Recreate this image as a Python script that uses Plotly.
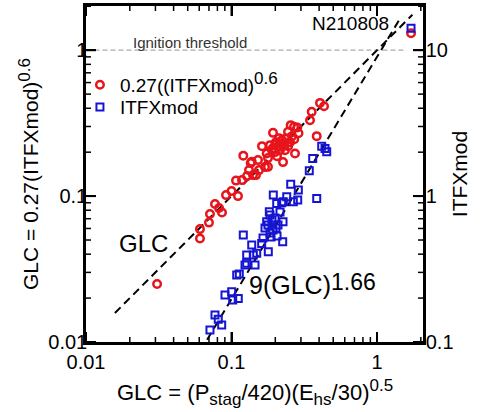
import numpy as np
import plotly.graph_objects as go

# ---------------- data ----------------
# red circles: GLC (x) vs 0.27*(ITFXmod)^0.6 (left axis)
red_glc = [0.0308, 0.0607, 0.0607, 0.0700, 0.0711, 0.0770, 0.0860, 0.0821,
           0.1000, 0.1108, 0.0917, 0.1074, 0.1181, 0.1278, 0.1405, 0.1473,
           0.1319, 0.1545, 0.1699, 0.1355, 0.1205, 0.1377, 0.1781, 0.2259,
           0.1745, 0.2732, 0.1928, 0.2445, 0.2552, 0.2689, 0.2833, 0.3557,
           0.3463, 0.4057, 0.4323, 0.3851, 0.1839, 0.1928, 0.2023, 0.2087,
           0.2154, 0.2224, 0.1991, 0.2295, 0.2369, 0.2121, 0.1898, 0.2055,
           0.2332, 0.2524, 0.2605, 0.1620, 0.1781, 0.1521, 0.2259, 0.2000,
           0.2160, 0.2450, 0.2700, 0.2887, 1.713]
red_val = [0.0250, 0.0594, 0.0512, 0.0658, 0.0753, 0.0882, 0.0771, 0.0828,
           0.1082, 0.1000, 0.1016, 0.1277, 0.1287, 0.1371, 0.1393, 0.1393,
           0.1507, 0.1507, 0.1580, 0.1683, 0.1894, 0.1718, 0.1587, 0.1710,
           0.1961, 0.1961, 0.2714, 0.2757, 0.3064, 0.2984, 0.2955, 0.3780,
           0.3315, 0.4355, 0.4134, 0.2576, 0.2235, 0.2132, 0.2344, 0.2200,
           0.2066, 0.2419, 0.2002, 0.2270, 0.2496, 0.2496, 0.2066, 0.1879,
           0.2066, 0.2344, 0.2576, 0.2200, 0.1821, 0.1765, 0.2200, 0.2270,
           0.2300, 0.2200, 0.2450, 0.2700, 1.307]

# blue squares: GLC (x) vs ITFXmod (right axis)
blue_glc = [0.4168, 0.4391, 0.4511, 0.3615, 0.3424, 0.3851, 0.2552, 0.2879,
            0.2851, 0.2659, 0.2396, 0.1937, 0.2270, 0.2213, 0.2045, 0.1819,
            0.1839, 0.1898, 0.1781, 0.1991, 0.2087, 0.1745, 0.1928, 0.1839,
            0.2023, 0.1699, 0.2154, 0.2259, 0.2248, 0.1790, 0.1205, 0.1377,
            0.1612, 0.1272, 0.1412, 0.1490, 0.1272, 0.1451, 0.1238, 0.1086,
            0.1131, 0.0902, 0.1003, 0.1019, 0.1113, 0.0770, 0.0811, 0.0856,
            0.0711, 0.1869, 0.1646, 0.2055, 1.713]
blue_itfx = [2.200, 2.122, 2.011, 1.813, 1.491, 0.964, 1.208, 1.099,
             0.939, 0.914, 0.989, 1.016, 0.914, 0.900, 0.891, 0.781,
             0.741, 0.685, 0.633, 0.707, 0.633, 0.667, 0.585, 0.558,
             0.604, 0.604, 0.777, 0.667, 0.486, 0.416, 0.541, 0.462,
             0.474, 0.394, 0.394, 0.405, 0.346, 0.337, 0.337, 0.288,
             0.292, 0.210, 0.221, 0.194, 0.199, 0.153, 0.143, 0.131,
             0.121, 0.524, 0.516, 0.532, 14.15]

# model lines
glc_line_span = [0.0158, 1.75]      # GLC = GLC
fit_coef, fit_exp = 9.0, 1.66       # ITFXmod = 9 (GLC)^1.66
fit_span = [0.068, 1.45]
ignition_threshold = 1.0

# axis ranges (log10) and tick positions
x_range = [-2, 0.316]
y_range = [-2, 0.303]
y2_range = [-1, 1.303]
decades = [0.01, 0.1, 1]
minor_digits = [2, 3, 4, 5, 6, 7, 8, 9]

# ---------------- figure ----------------
FONT = "Arial, Liberation Sans, sans-serif"
RED = "#e8141c"
BLUE = "#1414d2"
PLOT_W, PLOT_H = 337, 336
MAJOR_LEN, MINOR_LEN = 10, 5

fig = go.Figure()

xl = np.geomspace(glc_line_span[0], glc_line_span[1], 50)
fig.add_trace(go.Scatter(x=xl, y=xl, mode="lines", showlegend=False,
                         line=dict(color="black", width=2, dash="8px,5px"),
                         hoverinfo="skip"))
xf = np.geomspace(fit_span[0], fit_span[1], 50)
fig.add_trace(go.Scatter(x=xf, y=fit_coef * xf ** fit_exp, yaxis="y2",
                         mode="lines", showlegend=False,
                         line=dict(color="black", width=2, dash="8px,5px"),
                         hoverinfo="skip"))

fig.add_trace(go.Scatter(
    x=red_glc, y=red_val, mode="markers", legend="legend",
    name="0.27((ITFXmod)<sup><span style='font-size:17px'>0.6</span></sup>",
    marker=dict(symbol="circle-open", size=7.5, color=RED, line=dict(width=2.5, color=RED))))
fig.add_trace(go.Scatter(
    x=blue_glc, y=blue_itfx, yaxis="y2", mode="markers", name="ITFXmod",
    legend="legend2",
    marker=dict(symbol="square-open", size=7, color=BLUE, line=dict(width=2, color=BLUE))))

fig.add_shape(type="line", xref="x domain", x0=0.025, x1=0.95,
              yref="y", y0=ignition_threshold, y1=ignition_threshold,
              line=dict(color="#aaaaaa", width=1.2, dash="5px,3px"), layer="below")


# inside ticks on all four sides, drawn as thin line traces on the log axes
def tick_trace(values_x, values_y, length, width):
    kx = 10 ** (length * (x_range[1] - x_range[0]) / PLOT_W)
    ky = 10 ** (length * (y_range[1] - y_range[0]) / PLOT_H)
    x_lo, x_hi = 10 ** x_range[0], 10 ** x_range[1]
    y_lo, y_hi = 10 ** y_range[0], 10 ** y_range[1]
    xs, ys = [], []
    for v in values_x:
        xs += [v, v, None, v, v, None]
        ys += [y_lo, y_lo * ky, None, y_hi, y_hi / ky, None]
    for v in values_y:
        xs += [x_lo, x_lo * kx, None, x_hi, x_hi / kx, None]
        ys += [v, v, None, v, v, None]
    return go.Scatter(x=xs, y=ys, mode="lines", showlegend=False, hoverinfo="skip",
                      line=dict(color="black", width=width), connectgaps=False)


x_major = [d for d in decades if np.log10(d) <= x_range[1]]
y_major = [d for d in decades if np.log10(d) <= y_range[1]]
x_minor = [d * m for d in decades for m in minor_digits if np.log10(d * m) <= x_range[1]]
y_minor = [d * m for d in decades for m in minor_digits if np.log10(d * m) <= y_range[1]]
fig.add_trace(tick_trace(x_minor, y_minor, MINOR_LEN, 1.5))
fig.add_trace(tick_trace(x_major, y_major, MAJOR_LEN, 2))

axis_common = dict(
    type="log", showline=True, linecolor="black", linewidth=2.5,
    ticks="inside", ticklen=MAJOR_LEN, tickwidth=2, tickcolor="black",
    showgrid=False, zeroline=False, automargin=False,
    tickmode="linear", tick0=0, dtick=1,
    tickfont=dict(family=FONT, size=20, color="black"),
)

leg_common = dict(xanchor="left", yanchor="middle", bgcolor="rgba(0,0,0,0)",
                  font=dict(family=FONT, size=19), itemwidth=30)

fig.update_layout(
    width=484, height=412,
    margin=dict(l=86, r=61, t=6, b=70),
    paper_bgcolor="white", plot_bgcolor="white",
    font=dict(family=FONT, color="black"),
    xaxis=dict(axis_common, range=x_range, mirror="ticks"),
    yaxis=dict(axis_common, range=y_range, mirror=True, ticklabelstandoff=-8,
               title=dict(text="GLC = 0.27(ITFXmod)<sup><span style='font-size:17px'>0.6</span></sup>",
                          font=dict(family=FONT, size=21), standoff=4)),
    yaxis2=dict(axis_common, range=y2_range, overlaying="y", side="right",
                ticklabelstandoff=-4,
                title=dict(text="ITFXmod", font=dict(family=FONT, size=21), standoff=0)),
    legend=dict(leg_common, x=-0.018, y=0.765),
    legend2=dict(leg_common, x=-0.018, y=0.699),
    showlegend=True,
)

# x-axis title as a paper annotation for exact placement
fig.add_annotation(x=0.5, y=-0.149, xref="paper", yref="paper", yanchor="middle",
                   text="GLC = (P<sub><span style='font-size:17px'>stag</span></sub>/420)"
                        "(E<sub><span style='font-size:17px'>hs</span></sub>/30)"
                        "<sup><span style='font-size:17px'>0.5</span></sup>",
                   showarrow=False, font=dict(family=FONT, size=22, color="black"))

fig.add_annotation(x=-1.285, y=0.055, xref="x", yref="y", text="Ignition threshold",
                   showarrow=False, font=dict(family=FONT, size=15, color="#333333"))
fig.add_annotation(x=-0.179, y=0.185, xref="x", yref="y", text="N210808",
                   showarrow=False, font=dict(family=FONT, size=19, color="black"))
fig.add_annotation(x=-1.608, y=-1.322, xref="x", yref="y", text="GLC",
                   showarrow=False, font=dict(family=FONT, size=24, color="black"))
fig.add_annotation(x=-0.8935, y=-1.610, xref="x", yref="y", text="9(GLC)",
                   xanchor="left", showarrow=False,
                   font=dict(family=FONT, size=25, color="black"))
fig.add_annotation(x=-0.33, y=-1.589, xref="x", yref="y", text="1.66",
                   xanchor="left", showarrow=False,
                   font=dict(family=FONT, size=23, color="black"))

fig.write_html("out.html", config={"displayModeBar": False},
               post_script="document.body.style.margin='0';")
